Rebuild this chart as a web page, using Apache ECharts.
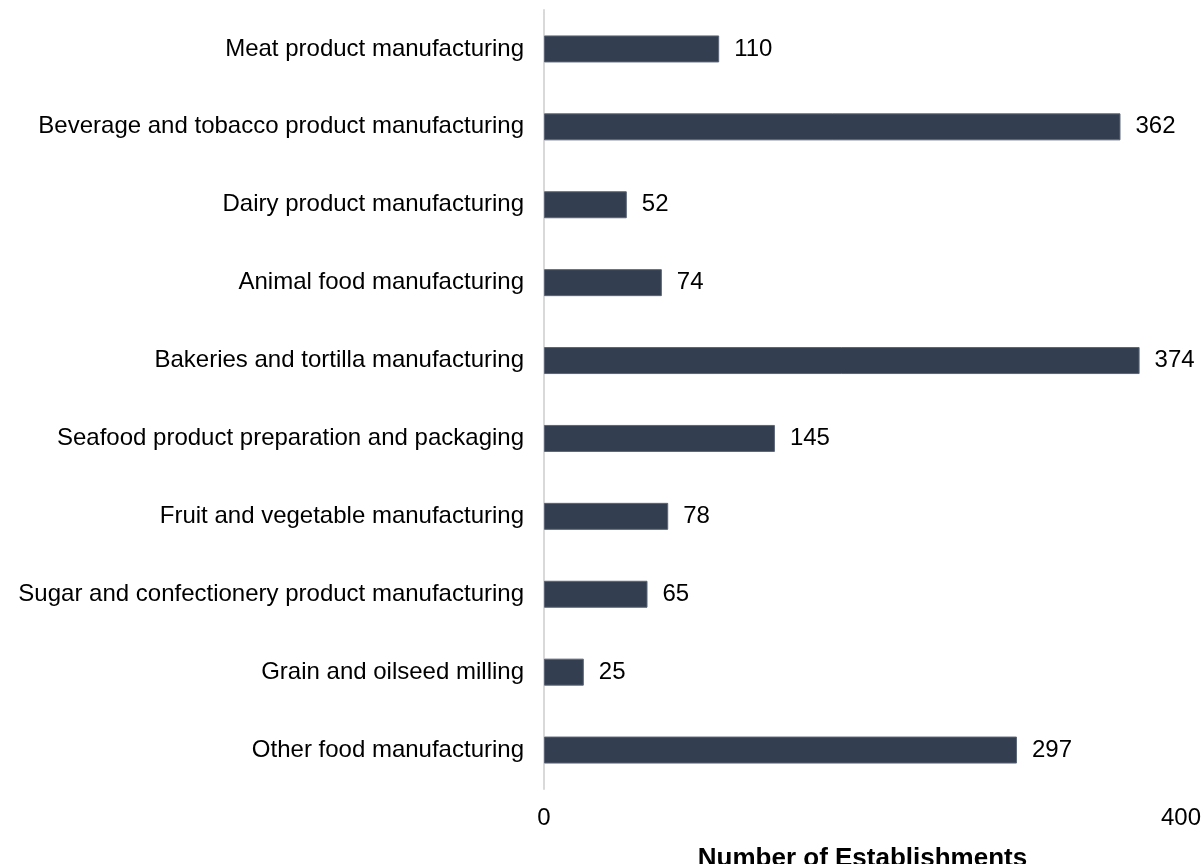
<!DOCTYPE html>
<html>
<head>
<meta charset="utf-8">
<script src="https://cdn.jsdelivr.net/npm/echarts@6/dist/echarts.min.js"></script>
<style>
  html, body { margin: 0; padding: 0; background: #ffffff; }
  #chart { width: 1204px; height: 864px; }
</style>
</head>
<body>
<div id="chart"></div>
<script>
// Food manufacturing establishments by industry
const categories = [
  "Meat product manufacturing",
  "Beverage and tobacco product manufacturing",
  "Dairy product manufacturing",
  "Animal food manufacturing",
  "Bakeries and tortilla manufacturing",
  "Seafood product preparation and packaging",
  "Fruit and vegetable manufacturing",
  "Sugar and confectionery product manufacturing",
  "Grain and oilseed milling",
  "Other food manufacturing"
];
const establishments = [110, 362, 52, 74, 374, 145, 78, 65, 25, 297];
const xTicks = [0, 400];

const FONT = '"Liberation Sans", Arial, sans-serif';
const chart = echarts.init(document.getElementById('chart'), null, { renderer: 'canvas' });

chart.setOption({
  animation: false,
  backgroundColor: '#ffffff',
  grid: {
    left: 544, right: 23, top: 10, bottom: 75,
    containLabel: false,
    outerBoundsMode: 'none'
  },
  xAxis: {
    type: 'value',
    min: xTicks[0],
    max: xTicks[xTicks.length - 1],
    interval: xTicks[1] - xTicks[0],
    name: 'Number of Establishments',
    nameLocation: 'middle',
    nameGap: 57,
    nameTextStyle: { fontFamily: FONT, fontSize: 26, fontWeight: 'bold', color: '#000000' },
    axisLine: { show: false },
    axisTick: { show: false },
    splitLine: { show: false },
    axisLabel: { fontFamily: FONT, fontSize: 24, color: '#000000', margin: 17 }
  },
  yAxis: {
    type: 'category',
    inverse: true,
    data: categories,
    axisLine: { show: true, lineStyle: { color: '#d9d9d9', width: 2 } },
    axisTick: { show: false },
    axisLabel: { fontFamily: FONT, fontSize: 24, color: '#000000', margin: 20, padding: [5, 0, 0, 0] }
  },
  series: [{
    type: 'bar',
    data: establishments,
    barWidth: 27,
    itemStyle: { color: '#333f50', borderColor: '#5b6577', borderWidth: 1 },
    label: {
      show: true,
      position: 'right',
      distance: 15,
      padding: [5, 0, 0, 0],
      fontFamily: FONT,
      fontSize: 24,
      color: '#000000'
    }
  }]
});
</script>
</body>
</html>
